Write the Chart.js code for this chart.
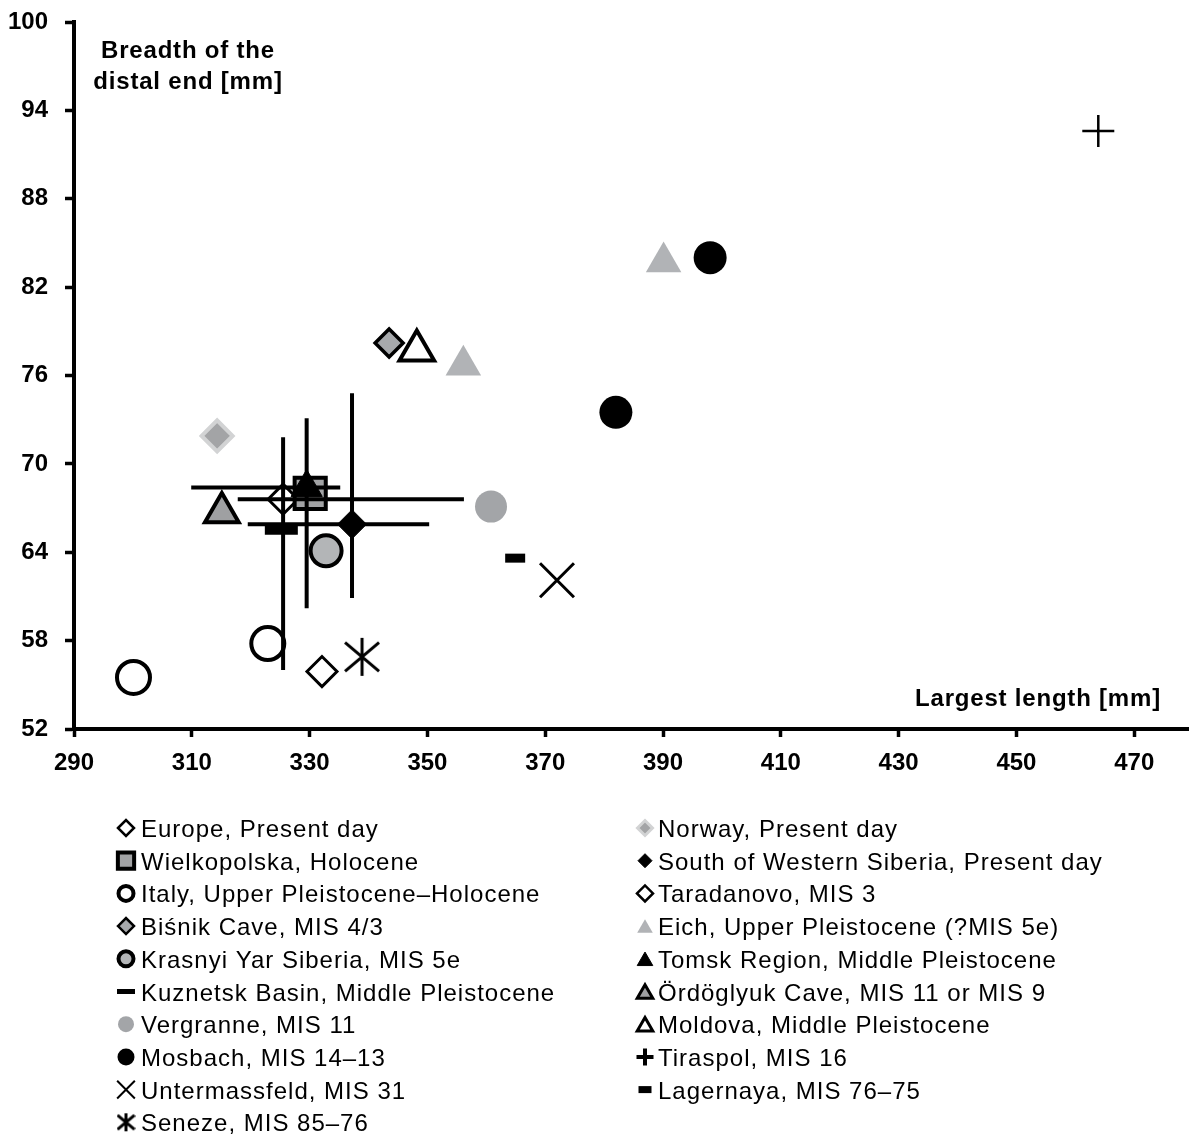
<!DOCTYPE html>
<html>
<head>
<meta charset="utf-8">
<title>Breadth of the distal end vs largest length</title>
<script src="https://cdn.jsdelivr.net/npm/chart.js@4.4.1/dist/chart.umd.min.js"></script>
<style>
  html, body { margin: 0; padding: 0; background: #fff; overflow: hidden; }
  canvas { display: block; }
</style>
</head>
<body>
<canvas id="chart" width="1189" height="1135"></canvas>
<script>
// ---- data -------------------------------------------------------------
const seriesNames = [
  'Europe, Present day',
  'Norway, Present day',
  'Wielkopolska, Holocene',
  'South of Western Siberia, Present day',
  'Italy, Upper Pleistocene\u2013Holocene',
  'Taradanovo, MIS 3',
  'Bi\u015bnik Cave, MIS 4/3',
  'Eich, Upper Pleistocene (?MIS 5e)',
  'Krasnyi Yar Siberia, MIS 5e',
  'Tomsk Region, Middle Pleistocene',
  'Kuznetsk Basin, Middle Pleistocene',
  '\u00d6rd\u00f6glyuk Cave, MIS 11 or MIS 9',
  'Vergranne, MIS 11',
  'Moldova, Middle Pleistocene',
  'Mosbach, MIS 14\u201313',
  'Tiraspol, MIS 16',
  'Untermassfeld, MIS 31',
  'Lagernaya, MIS 76\u201375',
  'Seneze, MIS 85\u201376'
];

// largest length [mm], one list per series
const lengthMm = [
  [325.5], [314.3], [330.1], [337.2], [300.1, 322.9], [332.1], [343.5],
  [356.1, 390.1], [332.8], [329.5], [325.2], [315.1], [360.8], [348.2],
  [382.0, 398.0], [463.9], [372.0], [364.9], [338.9]
];

// breadth of the distal end [mm], one list per series
const breadthMm = [
  [67.6], [71.9], [68.0], [65.9], [55.5, 57.8], [55.9], [78.2],
  [76.7, 83.7], [64.1], [68.4], [65.5], [66.7], [67.1], [77.7],
  [73.5, 84.0], [92.6], [62.1], [63.6], [56.9]
];

// min-max ranges shown as bars through the mean
const rangeSeries = [
  'Europe, Present day',
  'Tomsk Region, Middle Pleistocene',
  'South of Western Siberia, Present day'
];
const rangeLengthMin = [317.8, 309.9, 319.5];
const rangeLengthMax = [356.2, 335.2, 350.3];
const rangeBreadthMin = [56.0, 60.2, 60.9];
const rangeBreadthMax = [71.8, 73.1, 74.8];

// axis ticks
const xTicks = [290, 310, 330, 350, 370, 390, 410, 430, 450, 470];
const yTicks = [52, 58, 64, 70, 76, 82, 88, 94, 100];

// ---- styling ----------------------------------------------------------
const FONT = "'Liberation Sans', Arial, Helvetica, sans-serif";

function makeAsterisk(w, h, lw) {
  const c = document.createElement('canvas');
  c.width = w; c.height = h;
  const g = c.getContext('2d');
  g.strokeStyle = '#000';
  g.lineWidth = lw;
  const cx = w / 2, cy = h / 2, ax = w / 2 - 1, ay = h * 0.36, vy = h / 2 - 1;
  g.beginPath();
  g.moveTo(cx - ax, cy - ay); g.lineTo(cx + ax, cy + ay);
  g.moveTo(cx + ax, cy - ay); g.lineTo(cx - ax, cy + ay);
  g.moveTo(cx, cy - vy); g.lineTo(cx, cy + vy);
  g.stroke();
  return c;
}
const asteriskBig = makeAsterisk(36, 40, 3);
const asteriskSmall = makeAsterisk(19, 20, 3);

// marker look per series: plot marker and its legend swatch
const markerStyles = [
  { style: 'rectRot',  bg: '#ffffff', border: '#000000', r: 15,   bw: 3,   lr: 8,   lbw: 2.5 },
  { style: 'rectRot',  bg: '#a3a4a6', border: '#d2d3d4', r: 15.5, bw: 4,   lr: 7.5, lbw: 3 },
  { style: 'rect',     bg: '#a2a3a5', border: '#000000', r: 22,   bw: 4,   lr: 11.5, lbw: 4 },
  { style: 'rectRot',  bg: '#000000', border: '#000000', r: 14.5, bw: 1,   lr: 7,   lbw: 1 },
  { style: 'circle',   bg: '#ffffff', border: '#000000', r: 16.5, bw: 4,   lr: 7.5, lbw: 4 },
  { style: 'rectRot',  bg: '#ffffff', border: '#000000', r: 15,   bw: 3,   lr: 8,   lbw: 2.5 },
  { style: 'rectRot',  bg: '#a7a9ac', border: '#000000', r: 14,   bw: 3.5, lr: 8,   lbw: 2.5 },
  { style: 'triangle', bg: '#b1b3b6', border: '#b1b3b6', r: 20.5, bw: 0,   lr: 9,   lbw: 0 },
  { style: 'circle',   bg: '#b3b5b7', border: '#000000', r: 15.5, bw: 4,   lr: 7.5, lbw: 4 },
  { style: 'triangle', bg: '#000000', border: '#000000', r: 18,   bw: 1,   lr: 9,   lbw: 1 },
  { style: 'line',     bg: '#000000', border: '#000000', r: 16.5, bw: 9,   lr: 9,   lbw: 5 },
  { style: 'triangle', bg: '#9fa0a2', border: '#000000', r: 19.5, bw: 4,   lr: 9,   lbw: 3 },
  { style: 'circle',   bg: '#a3a5a8', border: '#a3a5a8', r: 16,   bw: 0,   lr: 8,   lbw: 0 },
  { style: 'triangle', bg: '#ffffff', border: '#000000', r: 20,   bw: 4,   lr: 9,   lbw: 3 },
  { style: 'circle',   bg: '#000000', border: '#000000', r: 16.5, bw: 0,   lr: 8.5, lbw: 0 },
  { style: 'cross',    bg: '#000000', border: '#000000', r: 16,   bw: 2.5, lr: 8.5, lbw: 4 },
  { style: 'crossRot', bg: '#000000', border: '#000000', r: 24,   bw: 3,   lr: 12.5, lbw: 2 },
  { style: 'line',     bg: '#000000', border: '#000000', r: 10,   bw: 9,   lr: 6.5, lbw: 7 },
  { style: asteriskBig, legendStyle: asteriskSmall, bg: '#000000', border: '#000000', r: 18, bw: 3, lr: 9, lbw: 3 }
];

// ---- datasets ---------------------------------------------------------
const datasets = [];

// range bars, drawn above the markers
rangeSeries.forEach((name, j) => {
  const i = seriesNames.indexOf(name);
  const mx = lengthMm[i][0];
  const my = breadthMm[i][0];
  const bar = (pts) => ({
    label: name + ' range',
    data: pts,
    showLine: true,
    borderColor: '#000',
    borderWidth: 4,
    pointRadius: 0,
    pointHoverRadius: 0,
    fill: false,
    tension: 0,
    order: 0
  });
  datasets.push(bar([{ x: rangeLengthMin[j], y: my }, { x: rangeLengthMax[j], y: my }]));
  datasets.push(bar([{ x: mx, y: rangeBreadthMin[j] }, { x: mx, y: rangeBreadthMax[j] }]));
});

// markers: later series sit on top of earlier ones
seriesNames.forEach((name, i) => {
  const s = markerStyles[i];
  datasets.push({
    label: name,
    data: lengthMm[i].map((x, k) => ({ x: x, y: breadthMm[i][k] })),
    showLine: false,
    pointStyle: s.style,
    pointRadius: s.r,
    pointHoverRadius: s.r,
    pointBackgroundColor: s.bg,
    pointBorderColor: s.border,
    pointBorderWidth: s.bw,
    pointHoverBorderWidth: s.bw,
    pointRotation: 0,
    order: 100 - i
  });
});

// ---- axis titles and two-column legend -------------------------------
const textLayer = {
  id: 'textLayer',
  afterDraw(chart) {
    const ctx = chart.ctx;
    ctx.save();
    ctx.fillStyle = '#000';
    ctx.textBaseline = 'middle';

    // axis titles inside the plot
    ctx.font = 'bold 24px ' + FONT;
    if ('letterSpacing' in ctx) ctx.letterSpacing = '0.8px';
    ctx.textAlign = 'center';
    ctx.fillText('Breadth of the', 188, 51);
    ctx.fillText('distal end [mm]', 188, 82);
    ctx.fillText('Largest length [mm]', 1038, 699);

    // legend
    ctx.font = '24px ' + FONT;
    if ('letterSpacing' in ctx) ctx.letterSpacing = '1px';
    ctx.textAlign = 'left';
    ctx.textBaseline = 'alphabetic';
    const rowTop = 828, rowStep = 32.7;
    const colMarker = [126, 645], colText = [141, 658];
    seriesNames.forEach((name, i) => {
      const col = i % 2, row = Math.floor(i / 2);
      const y = rowTop + row * rowStep;
      const s = markerStyles[i];
      const my = y + (s.style === 'triangle' ? s.lr * 0.25 : 0);
      ctx.save();
      ctx.fillStyle = s.bg;
      ctx.strokeStyle = s.border;
      ctx.lineWidth = s.lbw;
      Chart.helpers.drawPoint(ctx, {
        pointStyle: s.legendStyle || s.style,
        radius: s.lr,
        rotation: 0,
        borderWidth: s.lbw
      }, colMarker[col], my);
      ctx.restore();
      ctx.fillText(name, colText[col], y + 9);
    });
    ctx.restore();
  }
};

const axisTicks = (values) => (scale) => {
  scale.ticks = values.map(v => ({ value: v }));
};

new Chart(document.getElementById('chart').getContext('2d'), {
  type: 'scatter',
  data: { datasets: datasets },
  options: {
    responsive: false,
    animation: false,
    events: [],
    layout: {
      autoPadding: false,
      padding: { top: 22, left: 0, right: 0, bottom: 346 }
    },
    plugins: {
      legend: { display: false },
      tooltip: { enabled: false }
    },
    scales: {
      x: {
        type: 'linear',
        min: 290,
        max: 479.3,
        afterBuildTicks: axisTicks(xTicks),
        afterFit: (scale) => {
          scale.height = 60;
          scale.paddingLeft = 0;
          scale.paddingRight = 0;
        },
        grid: { drawOnChartArea: false, drawTicks: true, tickLength: 8, tickWidth: 3.5, tickColor: '#000' },
        border: { display: true, color: '#000', width: 4 },
        ticks: {
          color: '#000',
          font: { family: FONT, size: 24, weight: 'bold' },
          padding: 12,
          maxRotation: 0,
          autoSkip: false
        }
      },
      y: {
        type: 'linear',
        min: 52,
        max: 100,
        afterBuildTicks: axisTicks(yTicks),
        afterFit: (scale) => {
          scale.width = 74;
          scale.paddingTop = 0;
          scale.paddingBottom = 0;
        },
        grid: { drawOnChartArea: false, drawTicks: true, tickLength: 9, tickWidth: 3.5, tickColor: '#000' },
        border: { display: true, color: '#000', width: 4 },
        ticks: {
          color: '#000',
          font: { family: FONT, size: 24, weight: 'bold' },
          padding: 17,
          autoSkip: false
        }
      }
    }
  },
  plugins: [textLayer]
});
</script>
</body>
</html>
